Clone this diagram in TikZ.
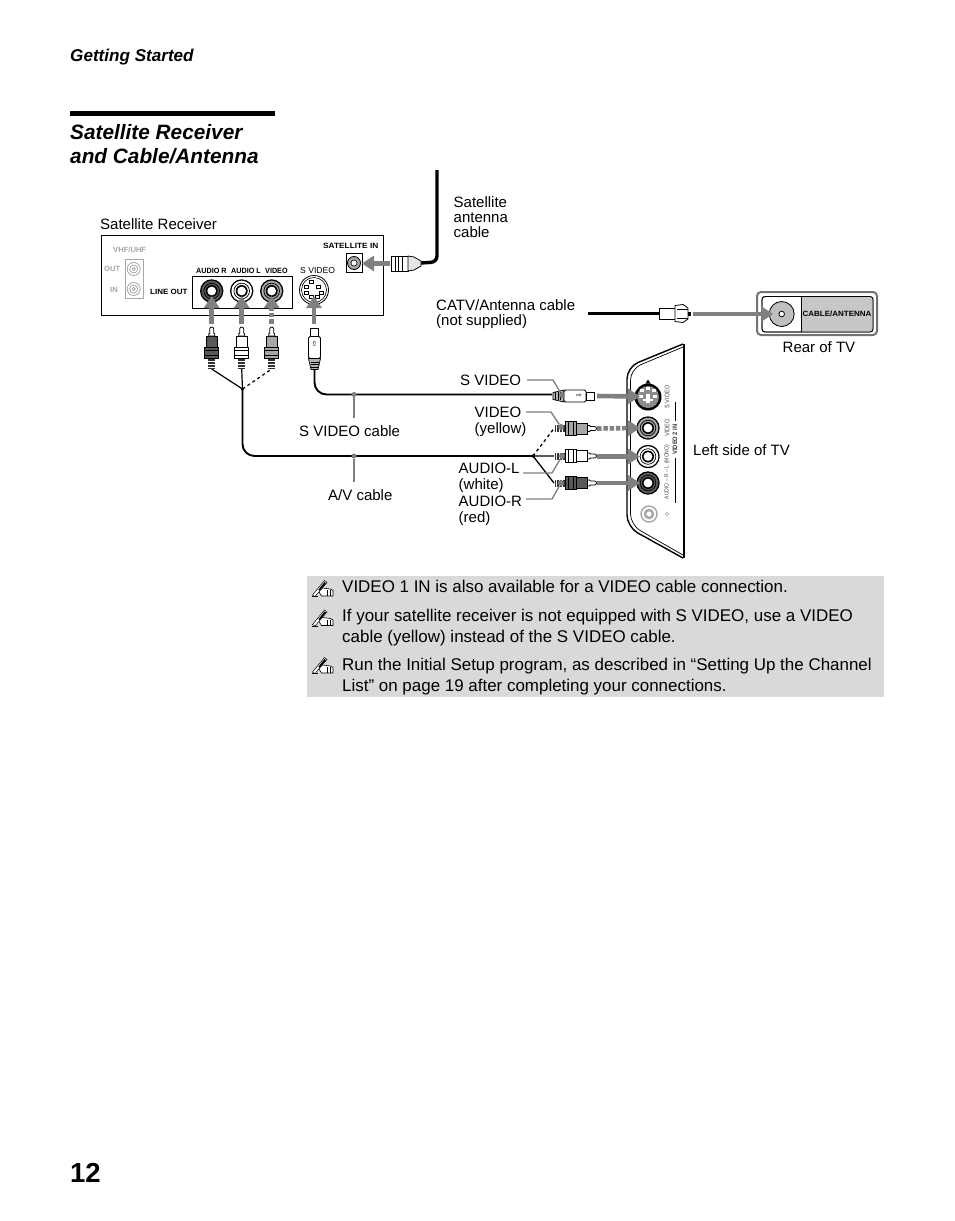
\documentclass[tikz,border=0pt]{standalone}
\usepackage{fontspec}
\setmainfont{Liberation Sans}
\newfontfamily\symfont{DejaVu Sans}
\usetikzlibrary{arrows.meta,shapes.geometric}
\newcommand{\fs}[1]{\fontsize{#1}{#1}\selectfont}
\definecolor{notegray}{HTML}{D9D9D9}
\definecolor{arrowgray}{HTML}{808080}
\definecolor{leadgray}{HTML}{7F7F7F}
\definecolor{faint}{HTML}{A6A6A6}
\tikzset{
  lbl/.style={inner sep=0pt,anchor=north west,align=left,font=\fs{15},text=black},
  note/.style={inner sep=0pt,anchor=base west,font=\fs{16.95}},
  tiny/.style={inner sep=0pt,font=\bfseries\fs{7.6}},
  flow/.style={draw=arrowgray,line width=4.6pt,-{Triangle[length=12pt,width=15pt]}},
  flowd/.style={flow,dash pattern=on 4.5pt off 1.8pt},
  wire/.style={draw=black,line width=1.9pt,rounded corners=12pt},
  leader/.style={draw=leadgray,line width=1.3pt},
  ldot/.style={circle,fill=leadgray,inner sep=0pt,minimum size=6pt},
  rca/.pic={
    \fill[black!80] (0,-3.5) rectangle (11,3.5);
    \foreach \k in {1.5,4.5,7.5}{\fill[white] (\k,-3.5) rectangle ++(.9,7);}
    \draw[black,line width=.9pt,fill=plugfill] (11,-6.8) rectangle (22,6.8);
    \draw[black,line width=.6pt] (13.5,-6.8) -- (13.5,6.8) (19,-6.8) -- (19,6.8);
    \draw[black,line width=.9pt,fill=plugfill] (22,-5.5) rectangle (33,5.5);
    \draw[black,line width=.8pt,fill=white] (33,-3) -- (35,-3) -- (36,-2) -- (40,-2) arc (-90:90:2) -- (36,2) -- (35,3) -- (33,3) -- cycle;
  },
  svplug/.pic={
    \draw[black,line width=.7pt,fill=black!30] (0,-3.5) -- (11,-6) -- (11,6) -- (0,3.5) -- cycle;
    \foreach \k in {2.5,5,7.5}{\draw[black,line width=.6pt] (\k,-4) -- (\k,4);}
    \draw[black,line width=.9pt,fill=white,rounded corners=1.5pt] (11,-6) -- (33,-6) -- (33,6) -- (11,6) -- cycle;
    \draw[black,line width=.9pt,fill=white] (33,-4) -- (41,-4) -- (41,4) -- (33,4) -- cycle;
  },
  jack/.pic={
    \fill[black] (0,0) circle (11.7);
    \fill[ringfill] (0,0) circle (10.3);
    \draw[black,line width=.7pt] (0,0) circle (7.8);
    \fill[black] (0,0) circle (6);
    \fill[white] (0,0) circle (4.4);
  },
  pencil/.pic={
    \draw[black,line width=.6pt,fill=white] (7,11) -- (11,8) -- (19,9) -- (21.5,10.5) -- (21.5,16) -- (10,16) -- cycle;
    \draw[black,line width=.5pt] (16,10) -- (16,16) (19,10) -- (19,16);
    \draw[black,line width=.5pt,fill=white] (1,15) -- (13,0.5) -- (15.5,2.5) -- (3.5,16.5) -- cycle;
    \fill[black] (7,9.5) -- (13,2) -- (14.5,3) -- (8,11) -- cycle;
    \draw[black,line width=.6pt] (0,16.5) -- (6,16.5);
  },
}
\colorlet{plugfill}{white}
\colorlet{ringfill}{white}
\begin{document}
\begin{tikzpicture}[x=1pt,y=-1pt]
\useasboundingbox (0,0) rectangle (954,1221);
\fill[white] (0,0) rectangle (954,1221);
% page furniture
\node[inner sep=0pt,anchor=base west,font=\bfseries\itshape\fs{17.1}] (head) at (70,61) {Getting Started};
\fill[black] (70,111) rectangle (275,115.5);
\node[inner sep=0pt,anchor=base west,font=\bfseries\itshape\fs{20.8}] (t1) at (70,139) {Satellite Receiver};
\node[inner sep=0pt,anchor=base west,font=\bfseries\itshape\fs{20.8}] (t2) at (70,163) {and Cable/Antenna};
\node[inner sep=0pt,anchor=base west,font=\bfseries\fs{27.5}] (pg) at (70,1182) {12};
% receiver
\draw[black,line width=1pt] (101.5,235.5) rectangle (383,315.5);
\node[lbl,anchor=base west] (satrec) at (100,229) {Satellite Receiver};
\draw[faint,line width=.8pt] (125,259) rectangle (143,298);
\foreach \y in {269,289}{
  \draw[faint,line width=.8pt] (133.7,\y) circle (6.5) circle (4) circle (1.6);
}
\node[tiny,text=faint,anchor=base west] (vhf) at (113,252) {VHF/UHF};
\node[tiny,text=faint,anchor=base west] (vout) at (104,271) {OUT};
\node[tiny,text=faint,anchor=base west] (vin) at (110,292) {IN};
\node[tiny,anchor=base west,xscale=1.05] (lineout) at (150,294) {LINE OUT};
\draw[black,line width=1pt] (192,276) rectangle (292,308);
\node[tiny,anchor=base west,xscale=.95] (lar) at (196,273) {AUDIO R};
\node[tiny,anchor=base west,xscale=.95] (lal) at (231,273) {AUDIO L};
\node[tiny,anchor=base west,xscale=.95] (lvd) at (265,273) {VIDEO};
\node[inner sep=0pt,anchor=base west,font=\fs{8.6}] (lsv) at (300,273) {S VIDEO};
\node[tiny,anchor=base west,xscale=1.09] (lsi) at (323,248) {SATELLITE IN};
\colorlet{ringfill}{black!65}
\pic at (211.7,291) {jack};
\colorlet{ringfill}{white}
\pic at (241.7,291) {jack};
\colorlet{ringfill}{black!35}
\pic at (271.7,291) {jack};
\coordinate (jR) at (211.7,296);
\coordinate (jL) at (241.7,296);
\coordinate (jV) at (271.7,296);
% receiver S video
\draw[black,line width=.8pt,fill=white] (314,290) circle (14.5);
\draw[black,line width=.6pt] (314,290) circle (12.5);
\foreach \p in {(311,281.5),(306,287),(318,287),(306,292.5),(321,292.5),(311,297),(317,297)}{
  \draw[black,line width=.6pt,fill=white] \p ++(-1.8,-1.4) rectangle ++(3.6,2.8);
}
\coordinate (jS) at (314,296);
% satellite in
\draw[black,line width=1pt,fill=white] (346,253.5) rectangle (362.5,272);
\draw[black,line width=.8pt,fill=black!35] (354,263) circle (6.5);
\draw[black,line width=.6pt,fill=white] (354,263) circle (3);
% satellite cable
\coordinate (satTop) at (437,170);
\coordinate (satPlug) at (421,263);
\draw[black,line width=3.4pt,rounded corners=6pt] (satTop) -- (437,262) -- (satPlug);
\draw[black,line width=.8pt,fill=white] (391.5,256.5) rectangle (408,271.5);
\draw[black,line width=.6pt] (395,256.5) -- (395,271.5) (398,256.5) -- (398,271.5) (402,256.5) -- (402,271.5);
\draw[black,line width=.8pt,fill=black!10] (408,256) -- (414,257) -- (421,261) -- (421,266) -- (414,270) -- (408,271) -- cycle;
\coordinate (satTip) at (390,263.5);
\coordinate (jSat) at (362,263.5);
\draw[flow] (satTip) -- (jSat);
% plugs
\colorlet{plugfill}{black!65}
\pic[rotate=90] at (211.7,369) {rca};
\colorlet{plugfill}{white}
\pic[rotate=90] at (241.7,369) {rca};
\colorlet{plugfill}{black!35}
\pic[rotate=90] at (271.7,369) {rca};
\coordinate (pR) at (211.7,323.5);
\coordinate (pL) at (241.7,323.5);
\coordinate (pV) at (271.7,323.5);
\draw[flow] (pR) -- (jR);
\draw[flow] (pL) -- (jL);
\draw[flowd] (pV) -- (jV);
\pic[rotate=90] at (314.5,369.5) {svplug};
\node[inner sep=0pt,font=\symfont\fs{7}] (sarrV) at (314.5,344) {⇧};
\coordinate (pS) at (314,323.5);
\draw[flow] (pS) -- (jS);
% wires from receiver plugs
\coordinate (pRt) at (211.7,369);
\coordinate (pLt) at (241.7,369);
\coordinate (pVt) at (271.7,369);
\coordinate (j1) at (242.5,389);
\coordinate (j2) at (533,456);
\coordinate (pSt) at (314.5,369);
\draw[black,line width=1.2pt] (pRt) -- (j1) (pLt) -- (j1);
\draw[black,line width=1.2pt,dashed] (j1) -- (pVt);
\fill[black] (j1) circle (1.8);
\draw[wire] (j1) -- (242.5,456) -- (j2);
\fill[black] (j2) circle (1.8);
\coordinate (hS) at (552,394.5);
\draw[wire] (pSt) -- (314.5,394.5) -- (hS);
% CATV
\coordinate (catvL) at (588,313.5);
\coordinate (catvR) at (660,313.5);
\draw[black,line width=3pt] (catvL) -- (catvR);
\draw[black,line width=.8pt,fill=white] (659,308) rectangle (675,319);
\draw[black,line width=.8pt,fill=white] (675,305.5) -- (683,304.5) -- (688,308) -- (688,319) -- (683,322.5) -- (675,321.5) -- cycle;
\draw[black,line width=.8pt] (677,309) -- (688,309) (677,318) -- (688,318);
\fill[black] (688,311.5) rectangle (691,315.5);
% rear of TV
\draw[black!55,line width=2pt,rounded corners=4pt] (757,292) rectangle (877,335);
\draw[black,line width=.8pt,rounded corners=3pt,fill=white] (762,296.5) rectangle (873,332);
\begin{scope}
\clip[rounded corners=3pt] (762,296.5) rectangle (873,332);
\fill[black!22] (801.7,296) rectangle (874,333);
\end{scope}
\draw[black,line width=.8pt,rounded corners=3pt] (762,296.5) rectangle (873,332);
\draw[black,line width=.8pt] (801.7,296.5) -- (801.7,332);
\draw[black,line width=.8pt,fill=black!25] (781.7,314) circle (12.5);
\draw[black,line width=.8pt,fill=white] (781.7,314) circle (2.8);
\node[tiny,xscale=1.05] (cablab) at (837,314) {CABLE/ANTENNA};
\coordinate (catvTip) at (693,314);
\coordinate (jCat) at (773,314);
\draw[flow] (catvTip) -- (jCat);
\node[lbl] (rearlab) at (782.5,341) {Rear of TV};
% TV panel
\draw[black,line width=1.4pt,rounded corners=12pt] (683,344) -- (627,367) -- (627,527) -- (683,558);
\draw[black,line width=.7pt,rounded corners=11pt] (683,347) -- (630.5,369) -- (630.5,525) -- (683,555);
\draw[black,line width=2pt] (683.5,344) -- (683.5,558);
\fill[black] (648,379.5) -- (645.5,383.5) -- (650.5,383.5) -- cycle;
% S video jack, TV
\fill[black] (648,397) circle (13.5);
\fill[black!45] (648,397) circle (11);
\foreach \p in {(642,390),(654,390),(648,388),(641,396),(655,396)}{\fill[white] \p ++(-2,-1.5) rectangle ++(4,3);}
\fill[white] (646,394) rectangle (650,403);
\fill[white] (643,399) rectangle (653,401);
\colorlet{ringfill}{black!35}
\pic at (648,428) {jack};
\colorlet{ringfill}{white}
\pic at (648,456.5) {jack};
\colorlet{ringfill}{black!65}
\pic at (648,483) {jack};
\draw[faint,line width=1.4pt,fill=white] (649,514) circle (8);
\draw[faint,line width=2.4pt] (649,514) circle (4);
\draw[faint,line width=.5pt] (667,514) circle (1.8);
\coordinate (tS) at (640,396.5);
\coordinate (tV) at (640,428);
\coordinate (tL) at (640,456.5);
\coordinate (tR) at (640,483);
\node[inner sep=0pt,rotate=90,font=\fs{6.6},text=black!70,xscale=.85] (rS) at (667,397) {S VIDEO};
\node[inner sep=0pt,rotate=90,font=\fs{6.6},text=black!70,xscale=.85] (rV) at (667,428) {VIDEO};
\node[inner sep=0pt,rotate=90,font=\fs{6},text=black!70,xscale=.85] (rA) at (667,472) {AUDIO -- R -- L (MONO)};
\node[inner sep=0pt,rotate=90,font=\bfseries\fs{6.4},text=black!80,xscale=.9] (rV2) at (675,439.5) {VIDEO 2 IN};
\draw[black,line width=.9pt] (675,402) -- (675,421) (675,458) -- (675,503);
% S video plug, TV side
\pic at (553,396) {svplug};
\node[inner sep=0pt,font=\symfont\fs{7}] (sarrH) at (579,396) {⇨};
\coordinate (pSH) at (597,396);
\draw[flow] (pSH) -- (tS);
% RCA plugs, TV side
\colorlet{plugfill}{black!35}
\pic at (554.5,428.5) {rca};
\colorlet{plugfill}{white}
\pic at (554.5,456) {rca};
\colorlet{plugfill}{black!65}
\pic at (554.5,483) {rca};
\coordinate (pV2) at (597,428.5);
\coordinate (pL2) at (597,456.5);
\coordinate (pR2) at (597,483);
\draw[flowd] (pV2) -- (tV);
\draw[flow] (pL2) -- (tL);
\draw[flow] (pR2) -- (tR);
\coordinate (eV) at (554,428.5);
\coordinate (eL) at (554,456);
\coordinate (eR) at (554,483);
\draw[black,line width=1.3pt,dashed] (j2) -- (eV);
\draw[black,line width=1.3pt] (j2) -- (eL) (j2) -- (eR);
% leader lines
\node[ldot] (dS) at (562,395) {};
\node[ldot] (dV) at (561,427) {};
\node[ldot] (dL) at (562,456) {};
\node[ldot] (dR) at (561,483) {};
\node[ldot,minimum size=5pt] (dC1) at (354,394.5) {};
\node[ldot,minimum size=5pt] (dC2) at (354,456) {};
\coordinate (eC1) at (354,418);
\coordinate (eC2) at (354,482);
\draw[leader] (dC1) -- (eC1);
\draw[leader] (dC2) -- (eC2);
\draw[leader] (527,380) -- (553,380) -- (dS);
\draw[leader] (526,412) -- (551,412) -- (dV);
\draw[leader] (523,473) -- (552,473) -- (dL);
\draw[leader] (526,499) -- (552,499) -- (dR);
% labels
\node[lbl] (l1) at (453.5,196.3) {Satellite\\[.3pt]antenna\\[.3pt]cable};
\node[lbl] (l2) at (436,299.3) {CATV/Antenna cable\\[.3pt](not supplied)};
\node[lbl,anchor=base west] (l3) at (460,385) {S VIDEO};
\node[lbl] (l4) at (474.5,407.3) {VIDEO\\[.3pt](yellow)};
\node[lbl] (l5) at (458.5,463.3) {AUDIO-L\\[.3pt](white)};
\node[lbl] (l6) at (458.5,496.3) {AUDIO-R\\[.3pt](red)};
\node[lbl,anchor=base west] (l7) at (299,436) {S VIDEO cable};
\node[lbl,anchor=base west] (l8) at (328,500) {A/V cable};
\node[lbl,anchor=base west] (l9) at (693,455) {Left side of TV};
% notes
\fill[notegray] (307,576) rectangle (884,697);
\pic at (311.5,580) {pencil};
\pic at (311.5,609.5) {pencil};
\pic at (311.5,657) {pencil};
\node[note] (n1) at (342,592) {VIDEO 1 IN is also available for a VIDEO cable connection.};
\node[note] (n2) at (342,621) {If your satellite receiver is not equipped with S VIDEO, use a VIDEO};
\node[note] (n3) at (342,642) {cable (yellow) instead of the S VIDEO cable.};
\node[note] (n4) at (342,670) {Run the Initial Setup program, as described in “Setting Up the Channel};
\node[note] (n5) at (342,691) {List” on page 19 after completing your connections.};
\end{tikzpicture}
\end{document}
